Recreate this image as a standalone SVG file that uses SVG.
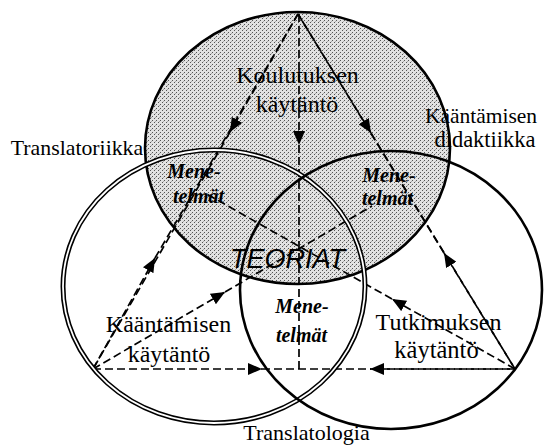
<svg xmlns="http://www.w3.org/2000/svg" width="545" height="445" viewBox="0 0 545 445">
<defs>
<pattern id="stip" width="4" height="4" patternUnits="userSpaceOnUse">
<rect width="4" height="4" fill="#e2e2e2"/>
<rect x="0" y="0" width="1" height="1" fill="#555"/>
<rect x="2" y="2" width="1" height="1" fill="#555"/>
<rect x="3" y="1" width="1" height="1" fill="#aaa"/>
</pattern>
<marker id="ah" viewBox="0 0 14 12" refX="14" refY="6" markerWidth="14" markerHeight="12" markerUnits="userSpaceOnUse" orient="auto">
<path d="M0,0 L14,6 L0,12 Z" fill="#000"/>
</marker>
</defs>
<style>
.lbl{font-family:"Liberation Serif","Times New Roman",serif;font-size:22px;fill:#000;text-anchor:middle}
.met{font-family:"Liberation Serif","Times New Roman",serif;font-size:20px;font-weight:bold;font-style:italic;fill:#000;text-anchor:middle}
.teo{font-family:"Liberation Sans",Arial,sans-serif;font-size:26px;font-style:italic;fill:#000;text-anchor:middle}
.dash{fill:none;stroke:#000;stroke-width:1.7;stroke-dasharray:8 4}
.ring{fill:none;stroke:#000;stroke-width:2.6}
</style>

<g id="didactics-circle-fill">
<ellipse cx="297.5" cy="148" rx="152.5" ry="136" fill="url(#stip)"/>
</g>

<g id="connectors">
<path class="dash" d="M298,14 L230,132" marker-end="url(#ah)"/>
<path class="dash" d="M230,132 L93,369"/>
<path class="dash" d="M93,369 L155,258" marker-end="url(#ah)"/>
<path class="dash" d="M155,258 L298,14"/>
<path class="dash" d="M298,14 L371,133" marker-end="url(#ah)"/>
<path class="dash" d="M371,133 L515,369"/>
<path class="dash" d="M515,369 L444,253" marker-end="url(#ah)"/>
<path class="dash" d="M444,253 L298,14"/>
<path class="dash" d="M299,14 L299,145" marker-end="url(#ah)"/>
<path class="dash" d="M299,145 L299,369"/>
<path class="dash" d="M93,369 L262,369" marker-end="url(#ah)"/>
<path class="dash" d="M262,369 L515,369"/>
<path class="dash" d="M515,369 L370,369" marker-end="url(#ah)"/>
<path class="dash" d="M93,369 L225,292" marker-end="url(#ah)"/>
<path class="dash" d="M225,292 L372,206"/>
<path class="dash" d="M515,369 L392,299" marker-end="url(#ah)"/>
<path class="dash" d="M392,299 L205,193"/>
</g>

<g id="didactics-circle">
<ellipse class="ring" cx="297.5" cy="148" rx="152.5" ry="136"/>
<text class="lbl" x="297.5" y="83" style="font-size:24px">Koulutuksen</text>
<text class="lbl" x="297" y="112" style="font-size:24px">käytäntö</text>
<text class="lbl" x="481" y="123" style="font-size:21.5px">Kääntämisen</text>
<text class="lbl" x="485" y="147" style="font-size:22.5px">didaktiikka</text>
</g>

<g id="translatoriikka-circle">
<ellipse cx="214" cy="286.5" rx="151" ry="136.5" fill="none" stroke="#000" stroke-width="5"/>
<ellipse cx="214" cy="286.5" rx="151" ry="136.5" fill="none" stroke="#fff" stroke-width="1.8"/>
<text class="lbl" x="77" y="155" style="font-size:21.8px">Translatoriikka</text>
<text class="lbl" x="168.5" y="332" style="font-size:24px">Kääntämisen</text>
<text class="lbl" x="169" y="362" style="font-size:24px">käytäntö</text>
</g>

<g id="translatologia-circle">
<ellipse class="ring" cx="391" cy="290" rx="151" ry="139"/>
<text class="lbl" x="438.5" y="330" style="font-size:24px">Tutkimuksen</text>
<text class="lbl" x="436.5" y="358" style="font-size:24.5px">käytäntö</text>
<text class="lbl" x="306.5" y="440" style="font-size:22px">Translatologia</text>
</g>

<g id="menetelmat-left">
<text class="met" x="194" y="178">Mene-</text>
<text class="met" x="198.5" y="203">telmät</text>
</g>
<g id="menetelmat-right">
<text class="met" x="389" y="182">Mene-</text>
<text class="met" x="387.5" y="205">telmät</text>
</g>
<g id="menetelmat-bottom">
<text class="met" x="302" y="313">Mene-</text>
<text class="met" x="301.5" y="342">telmät</text>
</g>

<g id="teoriat">
<text class="teo" x="287.5" y="268" style="font-size:27px">TEORIAT</text>
</g>
</svg>
